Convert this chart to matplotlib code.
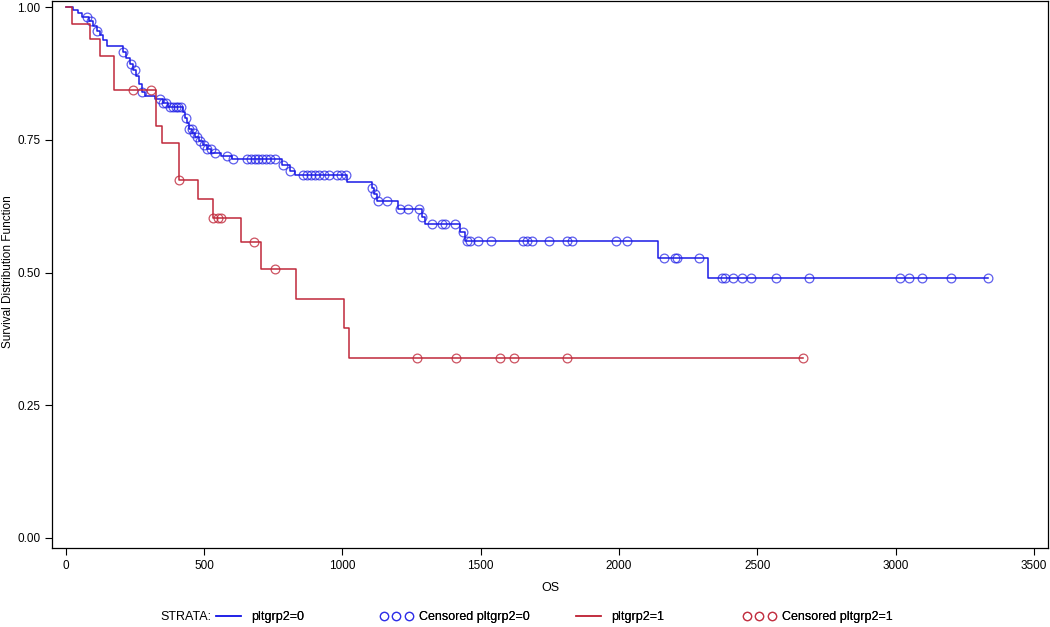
import matplotlib
matplotlib.use('Agg')
import matplotlib.pyplot as plt
from matplotlib.lines import Line2D
import numpy as np

plt.rcParams['font.family'] = ['Liberation Sans', 'DejaVu Sans']

# pltgrp2=0 : step times and survival after each step
t0 = [0, 25, 43, 58, 83, 98, 112, 123, 134, 148, 206, 217, 231, 242, 253, 264, 275, 285,
      322, 351, 369, 423, 430, 437, 445, 456, 466, 480, 495, 510, 525, 560, 600, 781, 810,
      828, 1016, 1106, 1115, 1125, 1200, 1287, 1300, 1424, 1442, 2140, 2320, 3332]
s0 = [1.000, 0.994, 0.989, 0.981, 0.974, 0.964, 0.955, 0.947, 0.938, 0.927, 0.915, 0.904,
      0.893, 0.882, 0.870, 0.855, 0.840, 0.833, 0.826, 0.819, 0.812, 0.803, 0.792, 0.782,
      0.771, 0.763, 0.756, 0.748, 0.741, 0.733, 0.726, 0.720, 0.714, 0.703, 0.692, 0.684,
      0.671, 0.660, 0.647, 0.634, 0.620, 0.605, 0.592, 0.577, 0.560, 0.528, 0.489, 0.489]
cens0 = [76, 90, 112, 206, 235, 249, 275, 340, 351, 361, 376, 387, 398, 405, 416, 434, 445,
         455, 463, 473, 484, 499, 510, 524, 538, 582, 604, 654, 669, 683, 694, 708, 723, 737,
         755, 784, 810, 857, 871, 885, 900, 914, 932, 950, 979, 994, 1012, 1106, 1117, 1128,
         1160, 1207, 1236, 1276, 1287, 1323, 1359, 1370, 1406, 1435, 1449, 1460, 1489, 1536,
         1652, 1666, 1684, 1746, 1811, 1829, 1988, 2027, 2161, 2201, 2208, 2288, 2371, 2382,
         2411, 2443, 2476, 2566, 2685, 3014, 3047, 3094, 3198, 3332]

# pltgrp2=1
t1 = [0, 22, 87, 123, 174, 325, 347, 408, 477, 531, 632, 705, 831, 1005, 1023, 2664]
s1 = [1.000, 0.968, 0.940, 0.908, 0.844, 0.776, 0.744, 0.675, 0.639, 0.603, 0.558, 0.506,
      0.451, 0.395, 0.338, 0.338]
cens1 = [242, 307, 408, 531, 549, 560, 679, 755, 1268, 1409, 1568, 1619, 1811, 2664]

blue = '#1a1ae6'
red = '#c0283a'


def surv_at(times, surv, c):
    idx = np.searchsorted(times, c, side='right') - 1
    return np.array(surv)[idx]


fig = plt.figure(figsize=(10.5, 6.27), dpi=100)
ax = fig.add_axes([0.0495, 0.126, 0.9485, 0.872])

ax.step(t0, s0, where='post', color=blue, lw=1.1)
ax.plot(cens0, surv_at(t0, s0, cens0), 'o', ms=6.3, mfc='none', mec=blue, mew=0.9, alpha=0.7)
ax.step(t1, s1, where='post', color=red, lw=1.1)
ax.plot(cens1, surv_at(t1, s1, cens1), 'o', ms=6.3, mfc='none', mec=red, mew=0.9, alpha=0.8)

ax.set_xlim(-50, 3550)
ax.set_ylim(-0.019, 1.011)
ax.set_xticks(np.arange(0, 3501, 500))
ax.set_yticks([0, 0.25, 0.5, 0.75, 1.0])
ax.set_yticklabels(['0.00', '0.25', '0.50', '0.75', '1.00'])
ax.tick_params(labelsize=8.5, length=5, width=0.8, direction='out')
ax.tick_params(axis='x', pad=4)
for sp in ax.spines.values():
    sp.set_linewidth(0.9)
ax.set_xlabel('OS', fontsize=9, labelpad=7)
fig.text(8 / 1050, 1 - 272 / 627, 'Survival Distribution Function', fontsize=8.5,
         rotation=90, va='center', ha='center')

# legend row
ly = 1 - 617 / 627
fig.text(160 / 1050, ly, 'STRATA:', fontsize=9, va='center', ha='left')
entries = [
    (Line2D([], [], color=blue, lw=1.1), 'pltgrp2=0', 212),
    (Line2D([], [], color=blue, marker='o', ls='none', ms=6, mfc='none', mew=0.9, alpha=0.7),
     'Censored pltgrp2=0', 380),
    (Line2D([], [], color=red, lw=1.1), 'pltgrp2=1', 572),
    (Line2D([], [], color=red, marker='o', ls='none', ms=6, mfc='none', mew=0.9, alpha=0.8),
     'Censored pltgrp2=1', 743),
]
for h, lab, px in entries:
    leg = fig.legend([h], [lab], loc='center left', bbox_to_anchor=(px / 1050, ly),
                     frameon=False, fontsize=9, numpoints=3, handlelength=2.6,
                     handletextpad=0.5, borderpad=0, borderaxespad=0)
    fig.add_artist(leg)

plt.savefig('out.png', dpi=100)
